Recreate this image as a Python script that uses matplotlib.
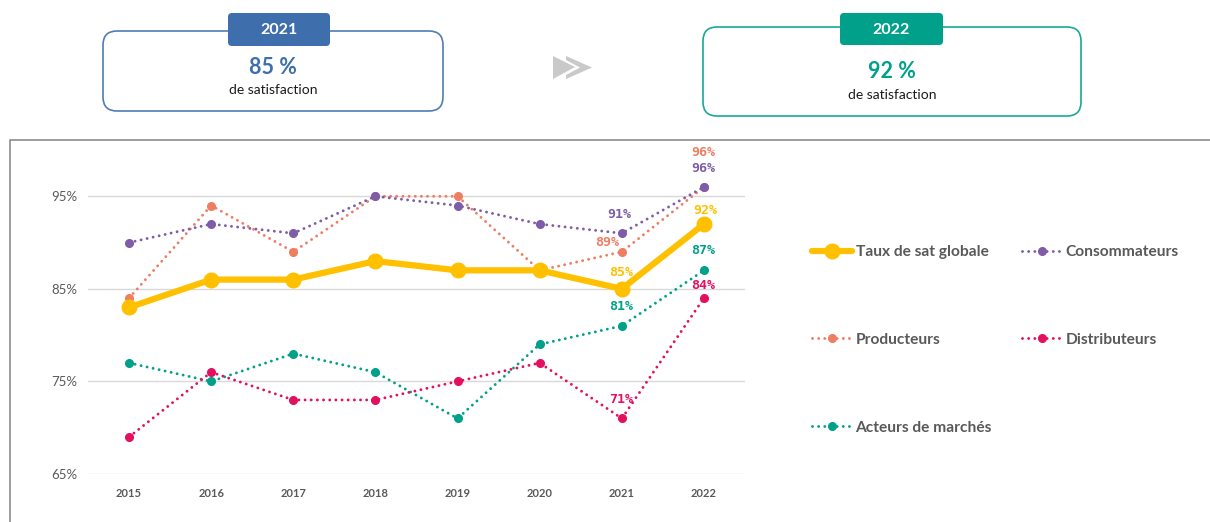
import matplotlib.pyplot as plt
from matplotlib.patches import FancyBboxPatch, Polygon

plt.rcParams['font.family'] = ['Lato', 'DejaVu Sans']

# Satisfaction per year and per group (%)
years = ['2015', '2016', '2017', '2018', '2019', '2020', '2021', '2022']
global_rate = [83, 86, 86, 88, 87, 87, 85, 92]
consumers = [90, 92, 91, 95, 94, 92, 91, 96]
producers = [84, 94, 89, 95, 95, 87, 89, 96]
distributors = [69, 76, 73, 73, 75, 77, 71, 84]
market_actors = [77, 75, 78, 76, 71, 79, 81, 87]
y_ticks = [65, 75, 85, 95]

# Header cards
card_years = ['2021', '2022']
card_values = [85, 92]

YELLOW = '#FFC000'
PURPLE = '#7E5CA8'
SALMON = '#EF7D62'
PINK = '#E2105F'
TEAL = '#00A08A'
BLUE = '#3E6EAC'
GREY_TXT = '#595959'

fig = plt.figure(figsize=(12.10, 5.22), dpi=100)

# background layer in pixel coordinates for the decorations
bg = fig.add_axes([0, 0, 1, 1], zorder=0)
bg.set_xlim(0, 1210)
bg.set_ylim(522, 0)
bg.axis('off')

# chart frame
bg.plot([10, 10, 1212], [525, 140, 140], color='#8C8C8C', lw=1.2)

def card(x0, y0, w, h, tag_x, tag_y, tag_w, tag_h, color, year, value, val_y, sub_y):
    bg.add_patch(FancyBboxPatch((x0, y0), w, h, boxstyle='round,pad=0,rounding_size=14',
                                facecolor='white', edgecolor=color, lw=1.2, alpha=0.9))
    bg.add_patch(FancyBboxPatch((tag_x, tag_y), tag_w, tag_h, boxstyle='round,pad=0,rounding_size=4',
                                facecolor=color, edgecolor='none'))
    bg.text(tag_x + tag_w / 2, tag_y + tag_h / 2 + 1, year, color='white', fontsize=11.5,
            fontweight='bold', ha='center', va='center')
    cx = x0 + w / 2
    bg.text(cx, val_y, f'{value} %', color=color, fontsize=15.5, fontweight='bold',
            ha='center', va='center')
    bg.text(cx, sub_y, 'de satisfaction', color='#1A1A1A', fontsize=10, ha='center', va='center')

card(103, 31, 340, 80, 228, 13, 102, 33, BLUE, card_years[0], card_values[0], 68, 90)
card(703, 27, 378, 89, 840, 13, 103, 32, TEAL, card_years[1], card_values[1], 71, 95)

# grey double chevron between the cards
bg.add_patch(Polygon([[553, 56], [575, 67], [553, 79], [553, 56]], closed=True,
                     facecolor='#C9C9C9', edgecolor='none'))
bg.add_patch(Polygon([[566, 56], [566, 60], [580, 67.5], [566, 75], [566, 79], [592, 67.5]],
                     closed=True, facecolor='#C9C9C9', edgecolor='none'))

ax = fig.add_axes([88 / 1210, 1 - 474 / 522, (745 - 88) / 1210, 324 / 522], zorder=1)
ax.patch.set_alpha(0)
x = list(range(len(years)))

dotted = dict(linestyle=(0, (0.01, 2.1)), lw=2.1, dash_capstyle='round', marker='o', markersize=5.5)
ax.plot(x, global_rate, color=YELLOW, lw=4.5, marker='o', markersize=10.5,
        solid_capstyle='round', label='Taux de sat globale', zorder=5)
ax.plot(x, producers, color=SALMON, label='Producteurs', zorder=3, **dotted)
ax.plot(x, market_actors, color=TEAL, label='Acteurs de marchés', zorder=3, **dotted)
ax.plot(x, consumers, color=PURPLE, label='Consommateurs', zorder=3, **dotted)
ax.plot(x, distributors, color=PINK, label='Distributeurs', zorder=3, **dotted)

# value labels on the last two years: (series, colour, index, dx px, dy px)
labels = [
    (consumers, PURPLE, 6, -3, 19),
    (producers, SALMON, 6, -15, 9),
    (global_rate, YELLOW, 6, -1, 16),
    (market_actors, TEAL, 6, -1, 19),
    (distributors, PINK, 6, -1, 19),
    (producers, SALMON, 7, -1, 35),
    (consumers, PURPLE, 7, -1, 19),
    (global_rate, YELLOW, 7, 1, 14),
    (market_actors, TEAL, 7, -1, 20),
    (distributors, PINK, 7, -1, 13),
]
for series, color, i, dx, dy in labels:
    ax.annotate(f'{series[i]}%', (x[i], series[i]), xytext=(dx * 0.72, dy * 0.72),
                textcoords='offset points', ha='center', va='center', color=color,
                fontsize=9.5, fontweight='bold', family='DejaVu Sans Mono', zorder=6)

ax.set_xlim(-0.5, len(years) - 0.5)
ax.set_ylim(65, 100)
ax.set_xticks(x)
ax.set_xticklabels(years)
ax.set_yticks(y_ticks)
ax.set_yticklabels([f'{v}%' for v in y_ticks])
ax.yaxis.grid(True, color='#D9D9D9', lw=1)
ax.set_axisbelow(True)
for s in ax.spines.values():
    s.set_visible(False)
ax.tick_params(length=0, labelcolor=GREY_TXT)
ax.tick_params(axis='x', pad=10, labelsize=8)
ax.tick_params(axis='y', pad=8, labelsize=9.5)
for t in ax.get_xticklabels():
    t.set_fontweight('bold')

leg = ax.legend(ncol=2, loc='upper left', bbox_to_anchor=(812 / 1210, 1 - 245 / 522),
                bbox_transform=fig.transFigure, frameon=False, borderpad=0, borderaxespad=0,
                handlelength=2.6, handletextpad=0.2, labelspacing=4.75, columnspacing=1.95,
                prop={'weight': 'bold', 'size': 11.2})
for t in leg.get_texts():
    t.set_color(GREY_TXT)

fig.savefig('out.png', dpi=100)
